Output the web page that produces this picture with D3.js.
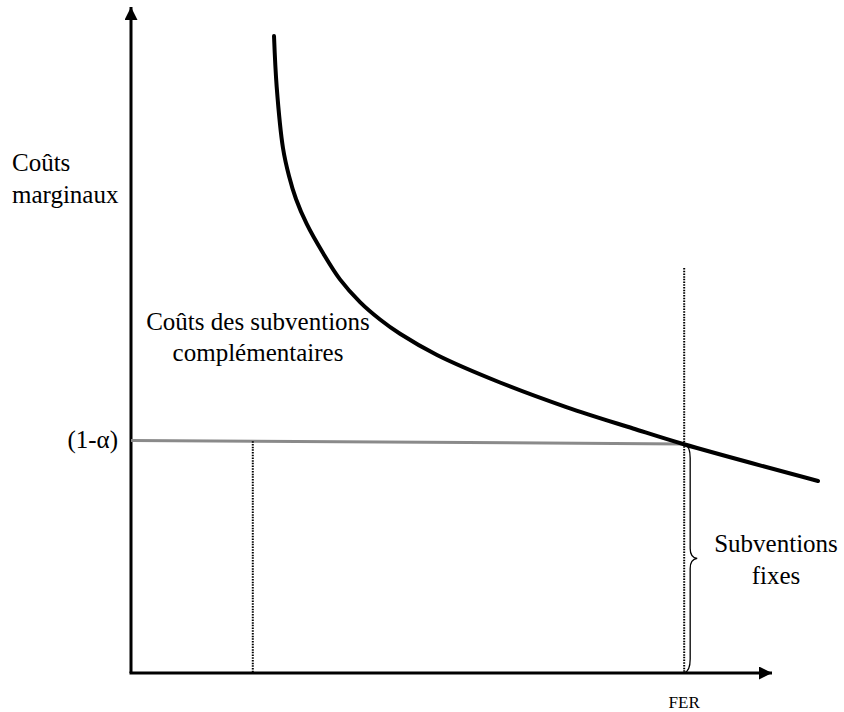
<!DOCTYPE html>
<html>
<head>
<meta charset="utf-8">
<script src="https://cdn.jsdelivr.net/npm/d3@7"></script>
<style>
    body { margin: 0; background: #fff; }
</style>
</head>
<body>
<svg id="plot"></svg>
<script>
// values (arbitrary units, origin at the axes' corner)
var curveX = [2.231, 2.273, 2.371, 2.465, 2.574, 2.741, 2.995, 3.260, 3.573, 3.885, 4.197, 4.774, 5.757, 6.802, 7.832, 8.612, 10.718];
var curveY = [9.565, 8.799, 7.883, 7.462, 7.117, 6.742, 6.306, 5.910, 5.569, 5.308, 5.093, 4.775, 4.362, 3.989, 3.671, 3.438, 2.883];
var alphaX = [0, 8.63];
var alphaY = [3.49, 3.44];
var dropX = [1.90, 8.63];
var dropTop = [3.48, 6.08];
var yLabel = ["Coûts", "marginaux"];
var alphaLabel = "(1-α)";
var midLabel = ["Coûts des subventions", "complémentaires"];
var braceLabel = ["Subventions", "fixes"];
var xTick = "FER";

var width = 844;
var height = 712;
var serif = "'Liberation Serif', 'Times New Roman', Times, 'DejaVu Serif', serif";
var svg = d3.select("#plot")
    .attr("width", width)
    .attr("height", height);

var xScale = d3.scaleLinear().domain([0, 10]).range([131, 772]);
var yScale = d3.scaleLinear().domain([0, 10]).range([673, 7]);

svg.append("defs").append("marker")
    .attr("id", "arrow")
    .attr("viewBox", "0 0 10 10")
    .attr("refX", 10)
    .attr("refY", 5)
    .attr("markerWidth", 13)
    .attr("markerHeight", 13)
    .attr("markerUnits", "userSpaceOnUse")
    .attr("orient", "auto")
    .append("path")
    .attr("d", "M0,0 L10,5 L0,10 Z")
    .attr("fill", "#000");

// axes
svg.append("line")
    .attr("x1", xScale(0)).attr("y1", yScale(0))
    .attr("x2", xScale(0)).attr("y2", yScale(10))
    .attr("stroke", "#000").attr("stroke-width", 3)
    .attr("marker-end", "url(#arrow)");
svg.append("line")
    .attr("x1", xScale(0) - 1.5).attr("y1", yScale(0))
    .attr("x2", xScale(10)).attr("y2", yScale(0))
    .attr("stroke", "#000").attr("stroke-width", 3)
    .attr("marker-end", "url(#arrow)");

// (1-alpha) level
svg.append("line")
    .attr("x1", xScale(alphaX[0])).attr("y1", yScale(alphaY[0]))
    .attr("x2", xScale(alphaX[1])).attr("y2", yScale(alphaY[1]))
    .attr("stroke", "#8a8a8a").attr("stroke-width", 3);

// dotted verticals
svg.selectAll(".drop")
    .data(dropX)
    .enter()
    .append("line")
    .attr("class", "drop")
    .attr("x1", function (d) { return xScale(d); })
    .attr("x2", function (d) { return xScale(d); })
    .attr("y1", function (d, i) { return yScale(dropTop[i]); })
    .attr("y2", yScale(0))
    .attr("stroke", "#000")
    .attr("stroke-width", 2)
    .attr("stroke-dasharray", "1.5,1.2");

// marginal cost curve
var line = d3.line()
    .x(function (d) { return xScale(d[0]); })
    .y(function (d) { return yScale(d[1]); })
    .curve(d3.curveCatmullRom.alpha(0.5));
svg.append("path")
    .datum(d3.zip(curveX, curveY))
    .attr("d", line)
    .attr("fill", "none")
    .attr("stroke", "#000")
    .attr("stroke-width", 4)
    .attr("stroke-linecap", "round");

// brace
var bx = xScale(dropX[1]);
var by0 = yScale(alphaY[1]);
var by1 = yScale(0);
var bm = (by0 + by1) / 2;
var b = d3.path();
b.moveTo(bx, by0);
b.quadraticCurveTo(bx + 6, by0 + 2, bx + 6, by0 + 14);
b.lineTo(bx + 6, bm - 10);
b.quadraticCurveTo(bx + 6, bm - 1, bx + 13, bm);
b.quadraticCurveTo(bx + 6, bm + 1, bx + 6, bm + 10);
b.lineTo(bx + 6, by1 - 14);
b.quadraticCurveTo(bx + 6, by1 - 2, bx, by1);
svg.append("path")
    .attr("d", b.toString())
    .attr("fill", "none")
    .attr("stroke", "#000")
    .attr("stroke-width", 1.3);

// labels
function label(x, y, anchor, size, str) {
    svg.append("text")
        .attr("x", x)
        .attr("y", y)
        .attr("text-anchor", anchor)
        .attr("font-family", serif)
        .attr("font-size", size)
        .attr("fill", "#000")
        .text(str);
}

yLabel.forEach(function (d, i) { label(12, 171 + i * 32, "start", 25, d); });
label(118, 448, "end", 25, alphaLabel);
midLabel.forEach(function (d, i) { label(258, 330 + i * 31, "middle", 25, d); });
braceLabel.forEach(function (d, i) { label(776, 552 + i * 32, "middle", 25, d); });
label(xScale(dropX[1]), 708, "middle", 17, xTick);
</script>
</body>
</html>
